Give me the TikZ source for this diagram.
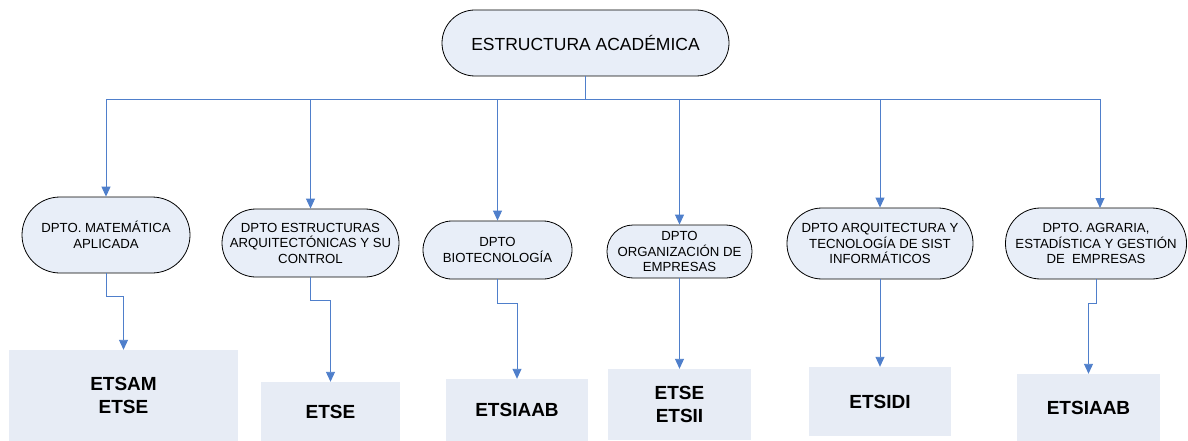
\documentclass[tikz,border=0pt]{standalone}
\usepackage{fontspec}
\setmainfont{Liberation Sans}
\usetikzlibrary{arrows.meta,calc}
\definecolor{nodefill}{HTML}{E8EEF8}
\definecolor{boxfill}{HTML}{E7ECF5}
\definecolor{linkblue}{HTML}{4F7FCB}
\begin{document}
\begin{tikzpicture}[x=1pt,y=1pt,
  dept/.style={draw=black,line width=0.8pt,fill=nodefill,rounded corners=#1,
    align=center,inner sep=1pt,font=\fontsize{13.2}{15.5}\selectfont},
  school/.style={fill=boxfill,align=center,inner sep=0pt,
    font=\fontsize{19}{23}\selectfont\bfseries},
  link/.style={draw=linkblue,line width=0.9pt},
  arr/.style={link,-{Triangle[width=9pt,length=10pt]}}
]
\useasboundingbox (0,0) rectangle (1188,-441);
% top node
\node[dept=33pt,minimum width=287pt,minimum height=66pt,font=\fontsize{17.5}{20}\selectfont] (top) at (585.5,-43) {ESTRUCTURA ACADÉMICA};
% departments
\node[dept=38pt,minimum width=168pt,minimum height=76pt] (n1) at (106,-235) {DPTO. MATEMÁTICA\\APLICADA};
\node[dept=34pt,minimum width=177pt,minimum height=68pt] (n2) at (310.5,-243) {DPTO ESTRUCTURAS\\ARQUITECTÓNICAS Y SU\\CONTROL};
\node[dept=29pt,minimum width=149pt,minimum height=58pt] (n3) at (497.5,-250) {DPTO\\BIOTECNOLOGÍA};
\node[dept=26pt,minimum width=145pt,minimum height=53pt] (n4) at (679.5,-251.5) {DPTO\\ORGANIZACIÓN DE\\EMPRESAS};
\node[dept=35pt,minimum width=186pt,minimum height=71pt] (n5) at (880,-243.5) {DPTO ARQUITECTURA Y\\TECNOLOGÍA DE SIST\\INFORMÁTICOS};
\node[dept=35pt,minimum width=181pt,minimum height=71pt] (n6) at (1096,-243.5) {DPTO. AGRARIA,\\ESTADÍSTICA Y GESTIÓN\\DE\ \ EMPRESAS};
% schools
\node[school,minimum width=229pt,minimum height=91pt] (b1) at (123.5,-395.5) {ETSAM\\ETSE};
\node[school,minimum width=139pt,minimum height=59pt] (b2) at (330.5,-411.5) {ETSE};
\node[school,minimum width=142pt,minimum height=62pt] (b3) at (517,-410) {ETSIAAB};
\node[school,minimum width=143pt,minimum height=71pt] (b4) at (679.5,-404.5) {ETSE\\ETSII};
\node[school,minimum width=142pt,minimum height=69pt] (b5) at (880,-401.5) {ETSIDI};
\node[school,minimum width=143pt,minimum height=67pt] (b6) at (1088.5,-407.5) {ETSIAAB};
% bus
\coordinate (bus) at (585.5,-99);
\coordinate (d6) at (1100,-208);
\draw[link] (top.south) -- (bus);
\draw[arr] (bus) -| (n1.north);
\draw[arr] (bus) -| (n2.north);
\draw[arr] (bus) -| (n3.north);
\draw[arr] (bus) -| (n4.north);
\draw[arr] (bus) -| (n5.north);
\draw[arr] (bus) -| (d6);
% lower connectors
\draw[arr] (n1.south) -- ++(0,-23) -| (b1.north);
\draw[arr] (n2.south) -- ++(0,-23) -| (b2.north);
\draw[arr] (n3.south) -- ++(0,-24) -| (b3.north);
\draw[arr] (n4.south) -- (b4.north);
\draw[arr] (n5.south) -- (b5.north);
\draw[arr] (n6.south) -- ++(0,-24) -| (b6.north);
\end{tikzpicture}
\end{document}
